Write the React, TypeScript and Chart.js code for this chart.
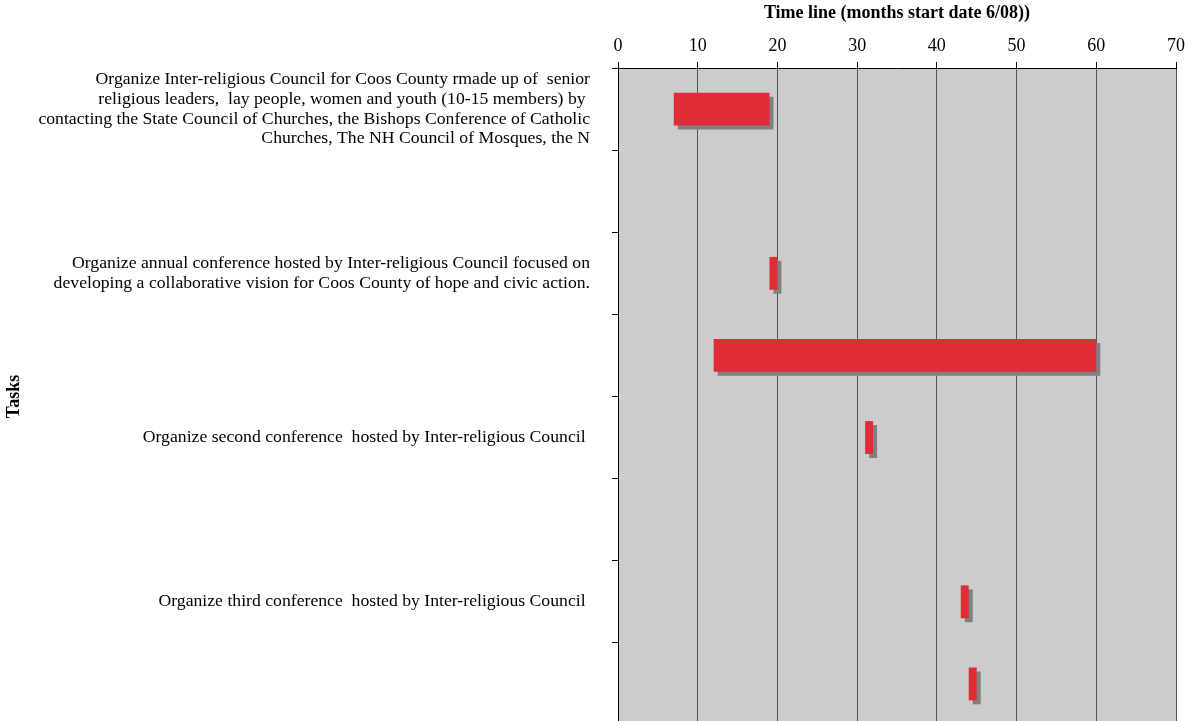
import React, { useEffect, useRef } from "react";
import { Chart, registerables } from "chart.js";

Chart.register(...registerables);

const categories: string[][] = [
  [
    "Organize Inter-religious Council for Coos County rmade up of  senior",
    "religious leaders,  lay people, women and youth (10-15 members) by ",
    "contacting the State Council of Churches, the Bishops Conference of Catholic",
    "Churches, The NH Council of Mosques, the N",
  ],
  [""],
  [
    "Organize annual conference hosted by Inter-religious Council focused on",
    "developing a collaborative vision for Coos County of hope and civic action.",
  ],
  [""],
  ["Organize second conference  hosted by Inter-religious Council "],
  [""],
  ["Organize third conference  hosted by Inter-religious Council "],
  [""],
];

const taskStart: (number | null)[] = [7, null, 19, 12, 31, null, 43, 44];
const taskEnd: (number | null)[] = [19, null, 20, 60, 32, null, 44, 45];

const xTicks: number[] = [0, 10, 20, 30, 40, 50, 60, 70];

const xTitle = "Time line (months start date 6/08))";
const yTitle = "Tasks";

const FONT = "'Liberation Serif', 'Times New Roman', serif";

export default function App() {
  const ref = useRef<HTMLCanvasElement | null>(null);

  useEffect(() => {
    if (!ref.current) return;
    const data = taskStart.map((s, i) =>
      s === null || taskEnd[i] === null ? null : [s, taskEnd[i] as number]
    );

    const bgPlugin = {
      id: "plotBg",
      beforeDraw(chart: any) {
        const { ctx, chartArea } = chart;
        ctx.save();
        ctx.fillStyle = "#cccccc";
        ctx.fillRect(
          chartArea.left,
          chartArea.top,
          chartArea.right - chartArea.left,
          chartArea.bottom - chartArea.top
        );
        ctx.restore();
      },
    };

    const shadowPlugin = {
      id: "barShadow",
      beforeDatasetsDraw(chart: any) {
        const ctx = chart.ctx;
        ctx.save();
        ctx.shadowColor = "#808080";
        ctx.shadowOffsetX = 4;
        ctx.shadowOffsetY = 4;
        ctx.shadowBlur = 0;
      },
      afterDatasetsDraw(chart: any) {
        chart.ctx.restore();
      },
    };

    const chart = new Chart(ref.current, {
      type: "bar",
      data: {
        labels: categories as any,
        datasets: [
          {
            data: data as any,
            backgroundColor: "#DF2C36",
            borderWidth: 0,
            barPercentage: 0.4,
            categoryPercentage: 1,
          },
        ],
      },
      options: {
        indexAxis: "y",
        responsive: false,
        animation: false,
        layout: { padding: { left: 0, right: 16, top: 0, bottom: 0 } },
        plugins: {
          legend: { display: false },
          tooltip: { enabled: false },
        },
        scales: {
          x: {
            position: "top",
            min: 0,
            max: 70,
            afterBuildTicks(scale: any) {
              scale.ticks = xTicks.map((v) => ({ value: v }));
            },
            ticks: {
              color: "#000",
              font: { family: FONT, size: 18 },
              padding: 5,
            },
            grid: {
              color: "#555555",
              lineWidth: 1,
              tickColor: "#000",
              tickLength: 6,
            },
            border: { color: "#000", width: 1 },
            title: {
              display: true,
              text: xTitle,
              color: "#000",
              font: { family: FONT, size: 18, weight: "bold" },
              padding: { top: 3, bottom: 2 },
            },
            afterFit(scale: any) {
              scale.height = 68;
            },
          },
          y: {
            offset: true,
            ticks: {
              color: "#000",
              font: { family: FONT, size: 17.7, lineHeight: 1.11 },
              padding: 22,
              autoSkip: false,
            },
            grid: {
              drawOnChartArea: false,
              drawTicks: true,
              tickLength: 6,
              tickColor: "#000",
              offset: true,
            },
            border: { color: "#000", width: 1 },
            title: {
              display: true,
              text: yTitle,
              color: "#000",
              font: { family: FONT, size: 18, weight: "bold" },
              padding: { top: 4, bottom: 0 },
            },
            afterFit(scale: any) {
              scale.width = 618;
              scale.paddingTop = 0;
              scale.paddingBottom = 0;
            },
          },
        },
      },
      plugins: [bgPlugin, shadowPlugin],
    });
    return () => chart.destroy();
  }, []);

  return (
    <div
      style={{
        position: "fixed",
        top: 0,
        left: 0,
        width: 1192,
        height: 721,
        overflow: "hidden",
        background: "#fff",
      }}
    >
      <canvas ref={ref} width={1192} height={725} style={{ display: "block" }} />
    </div>
  );
}
